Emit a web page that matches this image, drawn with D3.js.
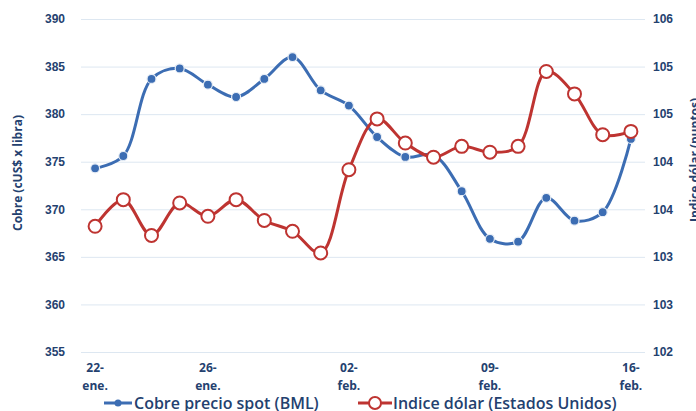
<!DOCTYPE html>
<html>
<head>
<meta charset="utf-8">
<script src="https://cdn.jsdelivr.net/npm/d3@7"></script>
<style>
  html, body { margin: 0; padding: 0; background: #ffffff; }
  svg { display: block; font-family: "Open Sans", "Liberation Sans", sans-serif; }
</style>
</head>
<body>
<svg id="chart" width="696" height="411"></svg>
<script>
// trading days, 22-ene .. 16-feb
const dates = ["22-ene.","23-ene.","24-ene.","25-ene.","26-ene.",
               "29-ene.","30-ene.","31-ene.","01-feb.","02-feb.",
               "05-feb.","06-feb.","07-feb.","08-feb.","09-feb.",
               "12-feb.","13-feb.","14-feb.","15-feb.","16-feb."];
const labelIdx = [0, 4, 9, 14, 19];

const cobre = [374.3, 375.6, 383.7, 384.8, 383.1, 381.8, 383.7, 386.0, 382.5, 380.9,
               377.6, 375.5, 375.7, 371.9, 366.9, 366.6, 371.2, 368.8, 369.7, 377.4];
const dolar = [103.51, 103.83, 103.40, 103.79, 103.63, 103.83, 103.58, 103.45, 103.19, 104.19,
               104.80, 104.51, 104.34, 104.47, 104.40, 104.47, 105.37, 105.10, 104.61, 104.65];

const leftTicks  = [355, 360, 365, 370, 375, 380, 385, 390];
const rightTicks = [102, 102.571, 103.143, 103.714, 104.286, 104.857, 105.429, 106];

const W = 696, H = 411;
const m = { top: 19, right: 51, bottom: 59, left: 81 };
const navy = "#24416f", blue = "#3c6db3", red = "#be3431", grid = "#dde7f1";

const svg = d3.select("#chart");

const x = d3.scalePoint()
            .domain(d3.range(dates.length))
            .range([m.left, W - m.right])
            .padding(0.5);
const yL = d3.scaleLinear().domain([355, 390]).range([H - m.bottom, m.top]);
const yR = d3.scaleLinear().domain([102, 106]).range([H - m.bottom, m.top]);

// gridlines
svg.append("g")
    .selectAll("line")
    .data(leftTicks)
    .enter()
        .append("line")
            .attr("x1", m.left)
            .attr("x2", W - m.right)
            .attr("y1", d => yL(d) + 0.5)
            .attr("y2", d => yL(d) + 0.5)
            .attr("stroke", grid)
            .attr("stroke-width", 1);

// left axis
const axL = svg.append("g")
    .attr("transform", "translate(" + (m.left - 13) + ",0)")
    .call(d3.axisLeft(yL).tickValues(leftTicks).tickSize(0).tickFormat(d3.format("d")));
axL.select(".domain").remove();
axL.selectAll("text")
    .attr("fill", navy).style("font-size", "12px").style("font-weight", 700);

// right axis (Excel-rounded labels)
const axR = svg.append("g")
    .attr("transform", "translate(" + (W - m.right + 5) + ",0)")
    .call(d3.axisRight(yR).tickValues(rightTicks).tickSize(0).tickFormat(d => Math.round(d)));
axR.select(".domain").remove();
axR.selectAll("text")
    .attr("fill", navy).style("font-size", "12px").style("font-weight", 700);

// x labels, two lines
const xl = svg.append("g")
    .selectAll("text")
    .data(labelIdx)
    .enter()
        .append("text")
            .attr("x", d => x(d))
            .attr("y", 372)
            .attr("text-anchor", "middle")
            .attr("fill", navy)
            .style("font-size", "12px")
            .style("font-weight", 700);
xl.append("tspan").attr("x", d => x(d)).text(d => dates[d].split("-")[0] + "-");
xl.append("tspan").attr("x", d => x(d)).attr("dy", 18).text(d => dates[d].split("-")[1]);

// axis titles
svg.append("text")
    .attr("transform", "translate(22,173) rotate(-90)")
    .attr("text-anchor", "middle")
    .attr("fill", navy)
    .style("font-size", "12px").style("font-weight", 700)
    .text("Cobre (cUS$ x libra)");
svg.append("text")
    .attr("transform", "translate(699,160) rotate(-90)")
    .attr("text-anchor", "middle")
    .attr("fill", navy)
    .style("font-size", "12px").style("font-weight", 700)
    .text("Indice dólar (puntos)");

// lines
const lineL = d3.line().x((d, i) => x(i)).y(d => yL(d)).curve(d3.curveCatmullRom.alpha(0.5));
const lineR = d3.line().x((d, i) => x(i)).y(d => yR(d)).curve(d3.curveCatmullRom.alpha(0.5));

svg.append("path")
    .datum(cobre)
    .attr("d", lineL)
    .attr("fill", "none")
    .attr("stroke", blue)
    .attr("stroke-width", 3);
svg.append("g")
    .selectAll("circle")
    .data(cobre)
    .enter()
        .append("circle")
            .attr("cx", (d, i) => x(i))
            .attr("cy", d => yL(d))
            .attr("r", 4.5)
            .attr("fill", blue)
            .attr("stroke", "#e8eef6")
            .attr("stroke-width", 1.2);

svg.append("path")
    .datum(dolar)
    .attr("d", lineR)
    .attr("fill", "none")
    .attr("stroke", red)
    .attr("stroke-width", 3);
svg.append("g")
    .selectAll("circle")
    .data(dolar)
    .enter()
        .append("circle")
            .attr("cx", (d, i) => x(i))
            .attr("cy", d => yR(d))
            .attr("r", 6.5)
            .attr("fill", "#ffffff")
            .attr("stroke", red)
            .attr("stroke-width", 2);

// legend
const leg = svg.append("g").attr("class", "legend");
leg.append("line").attr("x1", 104).attr("x2", 132).attr("y1", 403).attr("y2", 403)
    .attr("stroke", blue).attr("stroke-width", 3);
leg.append("circle").attr("cx", 118).attr("cy", 403).attr("r", 3.5).attr("fill", blue);
leg.append("text").attr("x", 134).attr("y", 409)
    .attr("fill", navy).style("font-size", "16px").style("font-weight", 600)
    .text("Cobre precio spot (BML)");

leg.append("line").attr("x1", 358).attr("x2", 392).attr("y1", 403).attr("y2", 403)
    .attr("stroke", red).attr("stroke-width", 3);
leg.append("circle").attr("cx", 375).attr("cy", 403).attr("r", 6).attr("fill", "#ffffff")
    .attr("stroke", red).attr("stroke-width", 2);
leg.append("text").attr("x", 393).attr("y", 409)
    .attr("fill", navy).style("font-size", "16px").style("font-weight", 600)
    .text("Indice dólar (Estados Unidos)");
</script>
</body>
</html>
